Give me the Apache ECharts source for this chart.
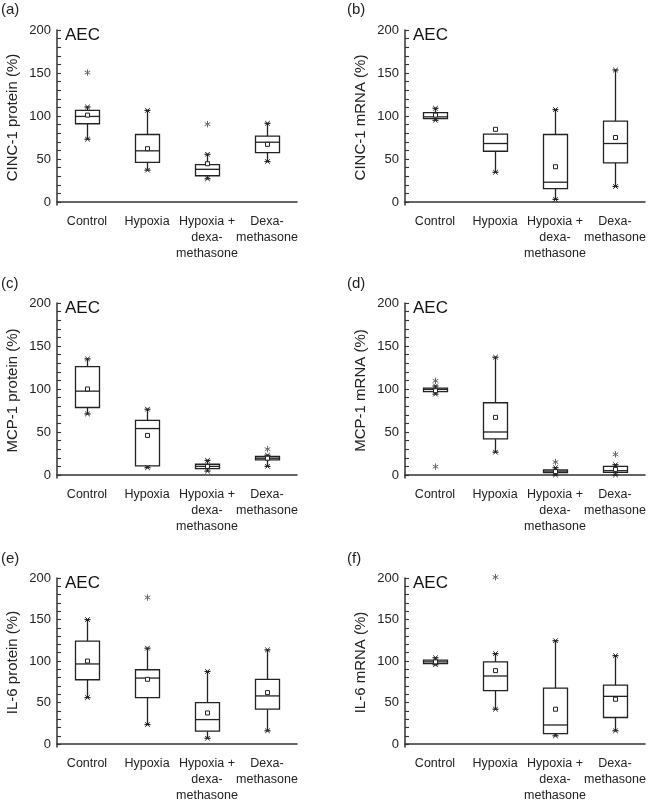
<!DOCTYPE html>
<html><head><meta charset="utf-8">
<script src="https://cdn.jsdelivr.net/npm/echarts@6/dist/echarts.min.js"></script>
<style>html,body{margin:0;padding:0;background:#fff}#c{width:650px;height:804px}</style>
</head><body><div id="c"></div>
<script>
const categories = ['Control', 'Hypoxia', 'Hypoxia +\ndexa-\nmethasone', 'Dexa-\nmethasone'];
const yTickLabels = [0, 50, 100, 150, 200];
const yTickMarks = [0, 10, 20, 30, 40, 50, 60, 70, 80, 90, 100, 110, 120, 130, 140, 150, 160, 170, 180, 190, 200];
const panelLetters = ['(a)', '(b)', '(c)', '(d)', '(e)', '(f)'];
const yAxisNames = ['CINC-1 protein (%)', 'CINC-1 mRNA (%)', 'MCP-1 protein (%)', 'MCP-1 mRNA (%)', 'IL-6 protein (%)', 'IL-6 mRNA (%)'];
const panelTag = 'AEC';

// each box: [whisker low, Q1, median, Q3, whisker high]
const aBoxes = [[73, 91, 99.5, 106.5, 110.5], [37, 46, 59.5, 78.5, 106.5], [27, 30.5, 38, 43.5, 55.5], [47, 57.5, 69.5, 76.5, 91.5]];
const aMeans = [101, 62, 44.5, 67];
const aOutliers = [[0, 150.5], [2, 90.5]];

const bBoxes = [[95, 97, 99, 104, 109], [34.5, 59, 68, 79, 79], [3, 15.5, 23, 78.5, 107.5], [18, 45.5, 68, 94, 153.5]];
const bMeans = [101, 84.5, 41, 75];
const bOutliers = [];

const cBoxes = [[71, 78.5, 97.5, 126, 135], [8.5, 10.5, 54, 63.5, 76.5], [4.5, 7.5, 10, 12.5, 17], [10, 17.5, 19.5, 21.5, 23]];
const cMeans = [100, 46, 10, 19.5];
const cOutliers = [[3, 30]];

const dBoxes = [[94, 97, 99.5, 101, 103.5], [26.5, 42, 50, 84, 137], [0, 2.7, 4.5, 6, 8.5], [0, 3, 5, 10, 12]];
const dMeans = [98, 67, 4, 6.5];
const dOutliers = [[0, 109.5], [0, 9.7], [2, 15], [3, 24]];

const eBoxes = [[56, 77.5, 96.5, 124, 150], [23.5, 56, 79.5, 89.5, 115.5], [7, 15.5, 29.5, 50, 87.5], [16, 42, 58, 78, 113.5]];
const eMeans = [100, 78, 37.5, 62];
const eOutliers = [[1, 176.5]];

const fBoxes = [[95.5, 97, 99, 101, 104], [42, 64.5, 82, 99, 109], [10, 12.5, 23, 67.5, 124.5], [16, 32, 57.5, 71, 106.5]];
const fMeans = [99, 88.5, 42, 54];
const fOutliers = [[1, 201]];

const allBoxes = [aBoxes, bBoxes, cBoxes, dBoxes, eBoxes, fBoxes];
const allMeans = [aMeans, bMeans, cMeans, dMeans, eMeans, fMeans];
const allOutliers = [aOutliers, bOutliers, cOutliers, dOutliers, eOutliers, fOutliers];

const FONT = '"Liberation Sans", Arial, Helvetica, sans-serif';
const INK = '#222';
const lefts = [57, 405];
const tops = [30, 303, 578];
const PW = 240, PH = 175;

function renderBox(params, api) {
  const ci = api.value(0);
  const lo = api.coord([ci, api.value(1)]);
  const q1 = api.coord([ci, api.value(2)]);
  const md = api.coord([ci, api.value(3)]);
  const q3 = api.coord([ci, api.value(4)]);
  const hi = api.coord([ci, api.value(5)]);
  const mn = api.coord([ci, api.value(6)]);
  const cx = Math.round(lo[0]) + 0.5;
  const w = 24;
  const st = { stroke: INK, lineWidth: 1.3, fill: null };
  const ch = [];
  if (hi[1] < q3[1] - 0.5) ch.push({ type: 'line', shape: { x1: cx, y1: hi[1], x2: cx, y2: q3[1] }, style: st });
  if (lo[1] > q1[1] + 0.5) ch.push({ type: 'line', shape: { x1: cx, y1: q1[1], x2: cx, y2: lo[1] }, style: st });
  ch.push({ type: 'rect', shape: { x: cx - w / 2, y: q3[1], width: w, height: q1[1] - q3[1] }, style: { stroke: INK, lineWidth: 1.3, fill: '#fff' } });
  ch.push({ type: 'line', shape: { x1: cx - w / 2, y1: md[1], x2: cx + w / 2, y2: md[1] }, style: st });
  [[hi, hi[1] < q3[1] - 0.5], [lo, lo[1] > q1[1] + 0.5]].forEach(function (p) {
    if (!p[1]) return;
    const y = p[0][1];
    ch.push({ type: 'line', shape: { x1: cx - 3, y1: y, x2: cx + 3, y2: y }, style: { stroke: INK, lineWidth: 1.2 } });
    ch.push({ type: 'line', shape: { x1: cx - 2.3, y1: y - 2.3, x2: cx + 2.3, y2: y + 2.3 }, style: { stroke: INK, lineWidth: 1 } });
    ch.push({ type: 'line', shape: { x1: cx - 2.3, y1: y + 2.3, x2: cx + 2.3, y2: y - 2.3 }, style: { stroke: INK, lineWidth: 1 } });
  });
  ch.push({ type: 'rect', shape: { x: cx - 2, y: mn[1] - 2, width: 4, height: 4 }, style: { stroke: INK, lineWidth: 1, fill: '#fff' } });
  return { type: 'group', children: ch };
}

function renderOutlier(params, api) {
  const p = api.coord([api.value(0), api.value(1)]);
  const cx = p[0] + 0.5, cy = p[1];
  const r = 3.2;
  const st = { stroke: '#666', lineWidth: 1 };
  return {
    type: 'group', children: [
      { type: 'line', shape: { x1: cx, y1: cy - r, x2: cx, y2: cy + r }, style: st },
      { type: 'line', shape: { x1: cx - r * 0.87, y1: cy - r / 2, x2: cx + r * 0.87, y2: cy + r / 2 }, style: st },
      { type: 'line', shape: { x1: cx - r * 0.87, y1: cy + r / 2, x2: cx + r * 0.87, y2: cy - r / 2 }, style: st }
    ]
  };
}

const grid = [], xAxis = [], yAxis = [], series = [], graphic = [];
for (let i = 0; i < 6; i++) {
  const col = i % 2, row = Math.floor(i / 2);
  const L = lefts[col], T = tops[row];
  grid.push({ left: L, top: T, width: PW, height: PH, containLabel: false });
  xAxis.push({
    gridIndex: i, type: 'category', data: categories, boundaryGap: true,
    axisLine: { lineStyle: { color: '#333', width: 1.5 } },
    axisTick: { inside: true, alignWithLabel: true, length: 5, lineStyle: { color: '#333', width: 1.2 } },
    axisLabel: { interval: 0, color: INK, fontFamily: FONT, fontSize: 12.5, lineHeight: 16, margin: 9 },
    splitLine: { show: false }
  });
  yAxis.push({
    gridIndex: i, type: 'value', min: -3.5, max: 200,
    name: yAxisNames[i], nameLocation: 'middle', nameGap: 37,
    nameTextStyle: { color: INK, fontFamily: FONT, fontSize: 15 },
    axisLine: { show: true, lineStyle: { color: '#333', width: 1.5 } },
    axisTick: { show: true, inside: true, length: 4, customValues: yTickMarks, lineStyle: { color: '#333', width: 1.1 } },
    axisLabel: { customValues: yTickLabels, color: INK, fontFamily: FONT, fontSize: 13, margin: 6 },
    splitLine: { show: false }
  });
  series.push({
    type: 'custom', xAxisIndex: i, yAxisIndex: i, renderItem: renderBox, clip: false,
    data: allBoxes[i].map(function (b, k) { return [k].concat(b).concat([allMeans[i][k]]); }),
    silent: true, z: 3
  });
  series.push({
    type: 'custom', xAxisIndex: i, yAxisIndex: i, renderItem: renderOutlier, clip: false,
    data: allOutliers[i], silent: true, z: 4
  });
  graphic.push({ type: 'text', left: col === 0 ? 1 : 347, top: row === 0 ? 2 : (row === 1 ? 276 : 551), style: { text: panelLetters[i], fill: INK, font: '15px ' + FONT } });
  graphic.push({ type: 'text', left: L + 8, top: T - 3, style: { text: panelTag, fill: '#111', font: '17px ' + FONT } });
}

const chart = echarts.init(document.getElementById('c'), null, { renderer: 'canvas' });
chart.setOption({ animation: false, backgroundColor: '#fff', grid: grid, xAxis: xAxis, yAxis: yAxis, series: series, graphic: graphic });
</script></body></html>
